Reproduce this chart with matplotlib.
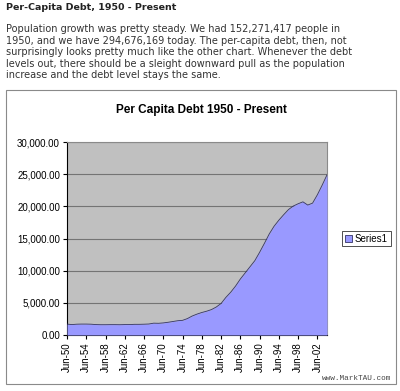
import matplotlib
matplotlib.use("Agg")
import matplotlib.pyplot as plt
from matplotlib.patches import Rectangle
import numpy as np

years = list(range(1950, 2005))
per_capita_debt = [1700, 1620, 1680, 1700, 1700, 1680, 1620, 1600, 1600, 1610,
                   1610, 1600, 1620, 1620, 1660, 1660, 1680, 1710, 1840, 1820,
                   1880, 1980, 2100, 2220, 2280, 2550, 2950, 3250, 3500, 3700,
                   3950, 4350, 4900, 5850, 6650, 7600, 8700, 9650, 10600, 11550,
                   12850, 14250, 15700, 16900, 17850, 18700, 19500, 20050, 20400, 20700,
                   20200, 20500, 21800, 23300, 24900]
tick_labels = ["Jun-%02d" % (y % 100) for y in years[::4]]
y_ticks = [0, 5000, 10000, 15000, 20000, 25000, 30000]

header = "Per-Capita Debt, 1950 - Present"
body_lines = [
    "Population growth was pretty steady. We had 152,271,417 people in",
    "1950, and we have 294,676,169 today. The per-capita debt, then, not",
    "surprisingly looks pretty much like the other chart. Whenever the debt",
    "levels out, there should be a sleight downward pull as the population",
    "increase and the debt level stays the same.",
]
chart_title = "Per Capita Debt 1950 - Present"
series_name = "Series1"

W, H = 400, 391
fig = plt.figure(figsize=(W / 100, H / 100), dpi=100)
fig.patch.set_facecolor("white")

def fx(px):
    return px / W

def fy(py):
    return 1 - py / H

# header and body text
fig.text(fx(6), fy(8), header, fontsize=6.8, fontweight="bold", color="#222222",
         family="DejaVu Sans", va="center", ha="left")
for i, line in enumerate(body_lines):
    fig.text(fx(6), fy(29 + i * 11.6), line, fontsize=7.0, color="#333333",
             family="DejaVu Sans", va="center", ha="left")

# chart box
fig.patches.append(Rectangle((fx(6), fy(384)), fx(396) - fx(6), fy(90) - fy(384),
                             transform=fig.transFigure, facecolor="white",
                             edgecolor="#8a8a8a", linewidth=0.8, zorder=-5))

fig.text(fx(201), fy(110), chart_title, fontsize=8.5, fontweight="bold",
         family="Liberation Sans", color="black", va="center", ha="center")

ax = fig.add_axes([fx(67), fy(335), fx(327) - fx(67), fy(142) - fy(335)])
ax.set_zorder(2)
ax.set_facecolor("#C0C0C0")
x = np.arange(len(years))
ax.fill_between(x, per_capita_debt, 0, color="#9999FF", linewidth=0, zorder=3,
                label=series_name)
ax.plot(x, per_capita_debt, color="#333366", linewidth=0.6, zorder=4)
ax.set_xlim(0, len(years) - 1)
ax.set_ylim(0, 30000)
ax.set_yticks(y_ticks)
ax.set_yticklabels(["{:,.2f}".format(v) for v in y_ticks], fontsize=7,
                   family="Liberation Sans")
ax.set_xticks(x[::4])
ax.set_xticklabels(tick_labels, rotation=90, fontsize=7, family="Liberation Sans")
ax.grid(axis="y", color="#747474", linewidth=0.8, zorder=1)
ax.set_axisbelow(True)
ax.tick_params(axis="both", direction="out", length=3, width=0.8, color="black",
               pad=2)
ax.spines["left"].set_color("black")
ax.spines["bottom"].set_color("black")
ax.spines["top"].set_color("#8a8a8a")
ax.spines["right"].set_color("#8a8a8a")
for s in ax.spines.values():
    s.set_linewidth(0.8)

leg = fig.legend(loc="center left", bbox_to_anchor=(fx(342), fy(238.5)),
                 prop={"family": "Liberation Sans", "size": 7},
                 frameon=True, fancybox=False, handlelength=0.7, handleheight=0.7,
                 handletextpad=0.3, borderpad=0.3, borderaxespad=0)
leg.get_frame().set_edgecolor("black")
leg.get_frame().set_linewidth(0.6)
for h in leg.legend_handles:
    h.set_edgecolor("#333366")
    h.set_linewidth(0.6)

fig.text(fx(391), fy(379), "www.MarkTAU.com", fontsize=5.6, family="Liberation Mono",
         color="#444444", ha="right", va="center")

fig.savefig("out.png", dpi=100)
